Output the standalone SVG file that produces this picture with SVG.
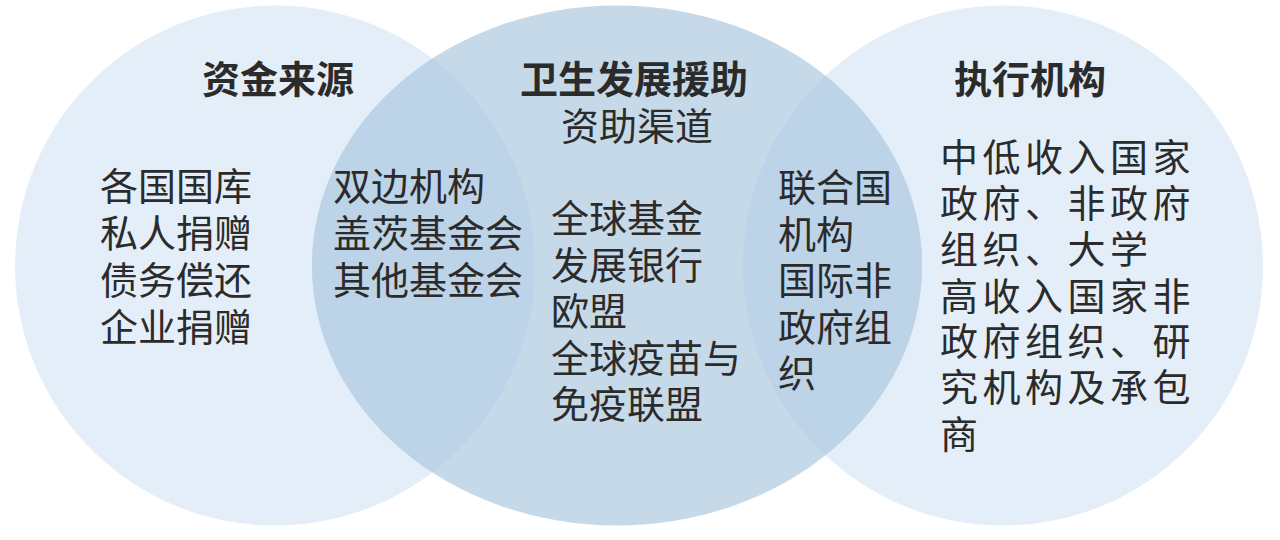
<svg xmlns="http://www.w3.org/2000/svg" width="1280" height="540" viewBox="0 0 1280 540">
<style>
.c-light{fill:#e4eef8}
.c-mid{fill:#c6d9e9}
.c-lens{fill:#bcd3e8}
text{font-family:"Noto Sans CJK SC","Noto Sans",sans-serif;fill:#2b2b2b;font-size:38px}
.title{font-weight:700;text-anchor:middle}
.sub{text-anchor:middle}
.wide{letter-spacing:4.5px}
</style>
<defs>
<clipPath id="clipMid"><ellipse cx="617" cy="265.5" rx="305" ry="260"/></clipPath>
</defs>
<rect width="1280" height="540" fill="#ffffff"/>
<g id="circle-sources">
<circle class="c-light" cx="275" cy="265.5" r="260"/>
</g>
<g id="circle-executors">
<circle class="c-light" cx="1003" cy="265.5" r="260"/>
</g>
<g id="circle-channels">
<ellipse class="c-mid" cx="617" cy="265.5" rx="305" ry="260"/>
</g>
<g id="overlap-left" clip-path="url(#clipMid)">
<circle class="c-lens" cx="275" cy="265.5" r="260"/>
</g>
<g id="overlap-right" clip-path="url(#clipMid)">
<circle class="c-lens" cx="1003" cy="265.5" r="260"/>
</g>
<g id="connectors"></g>
<g id="node-sources">
<text class="title" x="278" y="92.5">资金来源</text>
<text x="100" y="200">各国国库</text>
<text x="100" y="247">私人捐赠</text>
<text x="100" y="294">债务偿还</text>
<text x="100" y="341">企业捐赠</text>
</g>
<g id="node-bilateral">
<text x="333" y="200">双边机构</text>
<text x="333" y="247">盖茨基金会</text>
<text x="333" y="294">其他基金会</text>
</g>
<g id="node-channels">
<text class="title" x="634" y="92.5">卫生发展援助</text>
<text class="sub" x="637" y="139.5">资助渠道</text>
<text x="551" y="232">全球基金</text>
<text x="551" y="278.5">发展银行</text>
<text x="551" y="325">欧盟</text>
<text x="551" y="371.5">全球疫苗与</text>
<text x="551" y="418">免疫联盟</text>
</g>
<g id="node-un">
<text x="778" y="201">联合国</text>
<text x="778" y="247.5">机构</text>
<text x="778" y="294">国际非</text>
<text x="778" y="340.5">政府组</text>
<text x="778" y="387">织</text>
</g>
<g id="node-executors">
<text class="title" x="1030" y="92.5">执行机构</text>
<text class="wide" x="940" y="171">中低收入国家</text>
<text class="wide" x="940" y="217">政府、非政府</text>
<text class="wide" x="940" y="263">组织、大学</text>
<text class="wide" x="940" y="310">高收入国家非</text>
<text class="wide" x="940" y="355">政府组织、研</text>
<text class="wide" x="940" y="401">究机构及承包</text>
<text class="wide" x="940" y="448">商</text>
</g>
</svg>
